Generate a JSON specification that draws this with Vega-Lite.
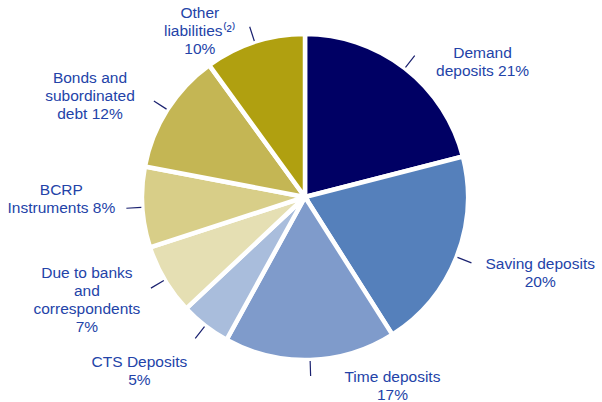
{
  "$schema": "https://vega.github.io/schema/vega-lite/v6.json",
  "width": 594,
  "height": 394,
  "padding": {"left": 8, "top": 0, "right": 0, "bottom": 8},
  "autosize": {"type": "none"},
  "background": "white",
  "config": {"view": {"stroke": null}, "text": {"font": "Liberation Sans"}},
  "data": {
    "values": [
      {"order": 1, "label": "Demand deposits", "value": 21, "text": "Demand\ndeposits 21%"},
      {"order": 2, "label": "Saving deposits", "value": 20, "text": "Saving deposits\n20%"},
      {"order": 3, "label": "Time deposits", "value": 17, "text": "Time deposits\n17%"},
      {"order": 4, "label": "CTS Deposits", "value": 5, "text": "CTS Deposits\n5%"},
      {"order": 5, "label": "Due to banks and correspondents", "value": 7, "text": "Due to banks\nand\ncorrespondents\n7%"},
      {"order": 6, "label": "BCRP Instruments", "value": 8, "text": "BCRP\nInstruments 8%"},
      {"order": 7, "label": "Bonds and subordinated debt", "value": 12, "text": "Bonds and\nsubordinated\ndebt 12%"},
      {"order": 8, "label": "Other liabilities", "value": 10, "text": "Other\nliabilities⁽²⁾\n10%"}
    ]
  },
  "transform": [
    {"stack": "value", "groupby": [], "sort": [{"field": "order", "order": "ascending"}], "as": ["v0", "v1"]},
    {"calculate": "(datum.v0 + datum.v1) / 2", "as": "mid"}
  ],
  "layer": [
    {
      "mark": {"type": "arc", "outerRadius": 163, "stroke": "white", "strokeWidth": 4.5},
      "encoding": {
        "theta": {"field": "v0", "type": "quantitative", "scale": {"domain": [0, 100]}},
        "theta2": {"field": "v1"},
        "color": {
          "field": "label",
          "type": "nominal",
          "scale": {
            "domain": ["Demand deposits", "Saving deposits", "Time deposits", "CTS Deposits", "Due to banks and correspondents", "BCRP Instruments", "Bonds and subordinated debt", "Other liabilities"],
            "range": ["#000064", "#5580BB", "#7F9BCB", "#A9BDDC", "#E5DFB3", "#D8CE88", "#C4B654", "#B0A010"]
          },
          "legend": null
        }
      }
    },
    {
      "mark": {"type": "arc", "innerRadius": 164, "outerRadius": 179, "stroke": "#1b2270", "strokeWidth": 1.2, "fillOpacity": 0},
      "encoding": {
        "theta": {"field": "mid", "type": "quantitative", "scale": {"domain": [0, 100]}},
        "theta2": {"field": "mid"}
      }
    },
    {
      "transform": [{"filter": "datum.mid < 40"}],
      "mark": {"type": "text", "radius": 182, "align": "center", "baseline": "middle", "dx": 66, "dy": 0, "fontSize": 15.5, "lineHeight": 18, "lineBreak": "\n", "color": "#2343A8"},
      "encoding": {
        "theta": {"field": "mid", "type": "quantitative", "stack": null, "scale": {"domain": [0, 100]}},
        "text": {"field": "text"}
      }
    },
    {
      "transform": [{"filter": "datum.mid >= 40 && datum.mid < 55"}],
      "mark": {"type": "text", "radius": 173, "align": "center", "baseline": "top", "dx": 82, "fontSize": 15.5, "lineHeight": 18, "lineBreak": "\n", "color": "#2343A8"},
      "encoding": {
        "theta": {"field": "mid", "type": "quantitative", "stack": null, "scale": {"domain": [0, 100]}},
        "text": {"field": "text"}
      }
    },
    {
      "transform": [{"filter": "datum.mid >= 55 && datum.mid < 62"}],
      "mark": {"type": "text", "radius": 200, "align": "center", "baseline": "top", "dx": -43, "fontSize": 15.5, "lineHeight": 18, "lineBreak": "\n", "color": "#2343A8"},
      "encoding": {
        "theta": {"field": "mid", "type": "quantitative", "stack": null, "scale": {"domain": [0, 100]}},
        "text": {"field": "text"}
      }
    },
    {
      "transform": [{"filter": "datum.mid >= 62 && datum.mid < 90"}],
      "mark": {"type": "text", "radius": 186, "align": "center", "baseline": "middle", "dx": -58, "dy": -19, "fontSize": 15.5, "lineHeight": 18, "lineBreak": "\n", "color": "#2343A8"},
      "encoding": {
        "theta": {"field": "mid", "type": "quantitative", "stack": null, "scale": {"domain": [0, 100]}},
        "text": {"field": "text"}
      }
    },
    {
      "transform": [{"filter": "datum.mid >= 90"}],
      "mark": {"type": "text", "radius": 185, "align": "center", "baseline": "bottom", "dx": -48, "fontSize": 15.5, "lineHeight": 18, "lineBreak": "\n", "color": "#2343A8"},
      "encoding": {
        "theta": {"field": "mid", "type": "quantitative", "stack": null, "scale": {"domain": [0, 100]}},
        "text": {"field": "text"}
      }
    }
  ]
}
